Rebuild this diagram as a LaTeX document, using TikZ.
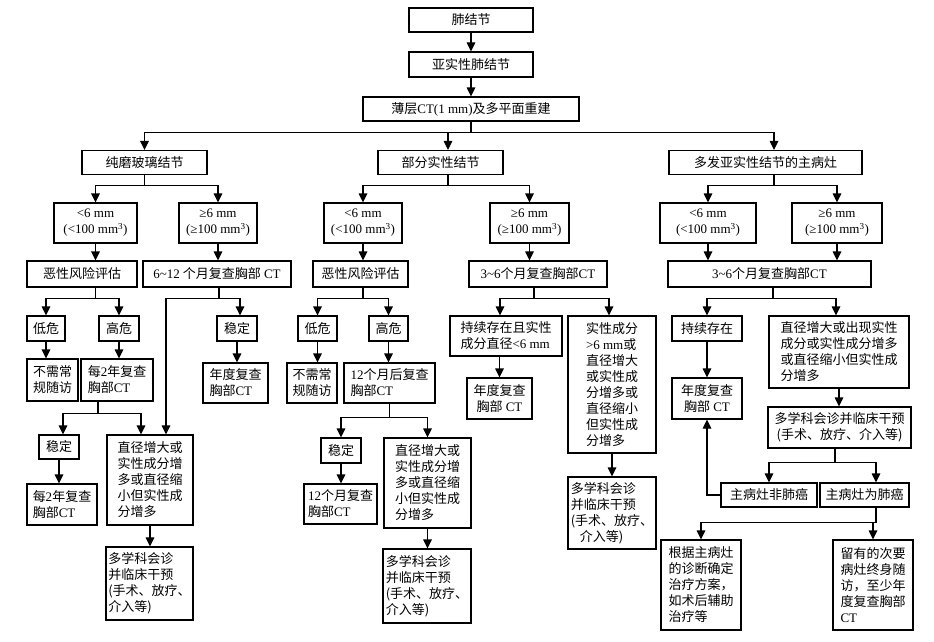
\documentclass[tikz,border=0pt]{standalone}
\usepackage{fontspec}
\setmainfont{Noto Sans CJK SC}
\newfontfamily\latf{Liberation Serif}
\newcommand\lt[1]{{\latf #1}}
\usetikzlibrary{arrows.meta}
\tikzset{
  box/.style={draw, line width=1.1pt, inner sep=0pt, align=center, font=\fontsize{13}{16}\selectfont},
  lbox/.style={box, align=left},
  arr/.style={line width=1.1pt, -{Triangle[length=9pt,width=8.5pt]}},
}
\begin{document}
\begin{tikzpicture}[x=1pt,y=-1pt]
\useasboundingbox (0,0) rectangle (934,642);
% top
\node[box,minimum width=124,minimum height=24] (n1) at (471,20) {肺结节};
\node[box,minimum width=124,minimum height=25] (n2) at (471,64.5) {亚实性肺结节};
\node[box,minimum width=216,minimum height=24] (n3) at (471,109) {薄层\lt{CT(1 mm)}及多平面重建};
% level 2
\node[box,minimum width=125,minimum height=24] (gg) at (144.5,162.5) {纯磨玻璃结节};
\node[box,minimum width=125,minimum height=24] (ps) at (440.5,162.5) {部分实性结节};
\node[box,minimum width=193,minimum height=24] (mf) at (765.5,162.5) {多发亚实性结节的主病灶};
% level 3
\node[box,minimum width=83,minimum height=40] (a1) at (95.5,223) {\lt{<6 mm}\\\lt{(<100 mm\textsuperscript{3})}};
\node[box,minimum width=78,minimum height=40] (a2) at (218,223) {\lt{≥6 mm}\\\lt{(≥100 mm\textsuperscript{3})}};
\node[box,minimum width=78,minimum height=40] (b1) at (363,223) {\lt{<6 mm}\\\lt{(<100 mm\textsuperscript{3})}};
\node[box,minimum width=79,minimum height=40] (b2) at (529.5,223) {\lt{≥6 mm}\\\lt{(≥100 mm\textsuperscript{3})}};
\node[box,minimum width=96,minimum height=40] (c1) at (708,223) {\lt{<6 mm}\\\lt{(<100 mm\textsuperscript{3})}};
\node[box,minimum width=90,minimum height=40] (c2) at (837,223) {\lt{≥6 mm}\\\lt{(≥100 mm\textsuperscript{3})}};
% level 4
\node[box,minimum width=110,minimum height=26] (a1r) at (82,274) {恶性风险评估};
\node[box,minimum width=148,minimum height=26] (a2r) at (217,274) {\lt{6\textasciitilde12} 个月复查胸部\lt{ CT}};
\node[box,minimum width=95,minimum height=26] (b1r) at (360.5,274) {恶性风险评估};
\node[box,minimum width=138,minimum height=26] (b2r) at (538,274) {\lt{3\textasciitilde6}个月复查胸部\lt{CT}};
\node[box,minimum width=203,minimum height=26] (c3) at (769.5,274) {\lt{3\textasciitilde6}个月复查胸部\lt{CT}};
% level 5
\node[box,minimum width=38,minimum height=25] (low1) at (46,328.5) {低危};
\node[box,minimum width=40,minimum height=25] (high1) at (119,328.5) {高危};
\node[box,minimum width=40,minimum height=25] (st2) at (237,328.5) {稳定};
\node[box,minimum width=39,minimum height=25] (low2) at (317.5,328.5) {低危};
\node[box,minimum width=39,minimum height=25] (high2) at (388.5,328.5) {高危};
\node[lbox,minimum width=112,minimum height=40] (ps2) at (506,336) {持续存在且实性\\成分直径\lt{<6 mm}};
\node[lbox,minimum width=88,minimum height=137] (sg) at (612,384.5) {实性成分\\\lt{>6 mm}或\\直径增大\\或实性成\\分增多或\\直径缩小\\但实性成\\分增多};
\node[box,minimum width=70,minimum height=25] (ps3) at (707,328.5) {持续存在};
\node[lbox,minimum width=140,minimum height=72] (gr3) at (839,352) {直径增大或出现实性\\成分或实性成分增多\\或直径缩小但实性成\\分增多};
% level 6
\node[lbox,minimum width=51,minimum height=42] (nf1) at (52.5,380) {不需常\\规随访};
\node[lbox,minimum width=72,minimum height=42] (ev2) at (117,380) {每\lt{2}年复查\\胸部\lt{CT}};
\node[lbox,minimum width=65,minimum height=40] (yr1) at (235.5,383) {年度复查\\胸部\lt{CT}};
\node[lbox,minimum width=50,minimum height=40] (nf2) at (312,383) {不需常\\规随访};
\node[lbox,minimum width=91,minimum height=40] (m12) at (389.5,383) {\lt{12}个月后复查\\胸部\lt{CT}};
\node[box,minimum width=65,minimum height=41] (yr2) at (499.5,398.5) {年度复查\\胸部\lt{ CT}};
\node[box,minimum width=70,minimum height=41] (yr3) at (707,398.5) {年度复查\\胸部\lt{ CT}};
% level 7
\node[box,minimum width=40,minimum height=24] (st1) at (59,447) {稳定};
\node[lbox,minimum width=86,minimum height=90] (gr1) at (150,480) {直径增大或\\实性成分增\\多或直径缩\\小但实性成\\分增多};
\node[box,minimum width=40,minimum height=25] (st3) at (341,450.5) {稳定};
\node[lbox,minimum width=87,minimum height=90] (gr2) at (427.5,483) {直径增大或\\实性成分增\\多或直径缩\\小但实性成\\分增多};
\node[box,minimum width=143,minimum height=41] (md4) at (839.5,427.5) {多学科会诊并临床干预\\(手术、放疗、介入等)};
\node[lbox,minimum width=88,minimum height=72] (md3) at (612,513) {多学科会诊\\并临床干预\\(手术、放疗、\\\hspace{0.7em}介入等)};
% level 8
\node[lbox,minimum width=70,minimum height=41] (ev2b) at (62,504.5) {每\lt{2}年复查\\胸部\lt{CT}};
\node[lbox,minimum width=73,minimum height=40] (m12b) at (340.5,504) {\lt{12}个月复查\\胸部\lt{CT}};
\node[box,minimum width=96,minimum height=24] (nl) at (769,495) {主病灶非肺癌};
\node[box,minimum width=89,minimum height=24] (lc) at (864.5,495) {主病灶为肺癌};
% level 9
\node[lbox,minimum width=87,minimum height=73] (md1) at (149.5,583.5) {多学科会诊\\并临床干预\\(手术、放疗、\\介入等)};
\node[lbox,minimum width=88,minimum height=74] (md2) at (427,586) {多学科会诊\\并临床干预\\(手术、放疗、\\介入等)};
\node[lbox,minimum width=80,minimum height=90] (rx) at (701,585) {根据主病灶\\的诊断确定\\治疗方案，\\如术后辅助\\治疗等};
\node[lbox,minimum width=80,minimum height=90] (fl) at (873,585) {留有的次要\\病灶终身随\\访，至少年\\度复查胸部\\\lt{CT}};

% connectors: top
\draw[arr] (n1) -- (n2);
\draw[arr] (n2) -- (n3);
\draw[arr] (n3.south) -- ++(0,11) -| (gg.north);
\draw[arr] (n3.south) -- ++(0,11) -| ([xshift=7.5]ps.north);
\draw[arr] (n3.south) -- ++(0,11) -| ([xshift=8.5]mf.north);
\draw[arr] (gg.south) -- ++(0,10) -| (a1.north);
\draw[arr] (gg.south) -- ++(0,10) -| (a2.north);
\draw[arr] ([xshift=7.5]ps.south) -- ++(0,10) -| (b1.north);
\draw[arr] ([xshift=7.5]ps.south) -- ++(0,10) -| (b2.north);
\draw[arr] ([xshift=8.5]mf.south) -- ++(0,10) -| (c1.north);
\draw[arr] ([xshift=8.5]mf.south) -- ++(0,10) -| (c2.north);
\draw[arr] (a1.south) -- (a1.south |- a1r.north);
\draw[arr] (a2.south) -- (a2.south |- a2r.north);
\draw[arr] (b1.south) -- (b1.south |- b1r.north);
\draw[arr] (b2.south) -- (b2.south |- b2r.north);
\draw[arr] (c1.south) -- (c1.south |- c3.north);
\draw[arr] (c2.south) -- (c2.south |- c3.north);
% left column
\draw[arr] (a1.south |- a1r.south) -- ++(0,11) -| (low1.north);
\draw[arr] (a1.south |- a1r.south) -- ++(0,11) -| (high1.north);
\draw[arr] ([xshift=2]a2r.south) -- ++(0,11) -| ([xshift=3]st2.north);
\draw[arr] ([xshift=2]a2r.south) -- ++(0,11) -| ([xshift=16]gr1.north);
\draw[arr] (low1.south) -- (low1.south |- nf1.north);
\draw[arr] (high1.south) -- (high1.south |- ev2.north);
\draw[arr] ([xshift=-19]ev2.south) -- ++(0,12) -| ([xshift=4]st1.north);
\draw[arr] ([xshift=-19]ev2.south) -- ++(0,12) -| ([xshift=-9]gr1.north);
\draw[arr] (st1.south) -- (st1.south |- ev2b.north);
\draw[arr] (gr1.south) -- (gr1.south |- md1.north);
\draw[arr] (st2.south) -- (st2.south |- yr1.north);
% middle column
\draw[arr] (b1.south |- b1r.south) -- ++(0,11) -| (low2.north);
\draw[arr] (b1.south |- b1r.south) -- ++(0,11) -| (high2.north);
\draw[arr] (low2.south) -- (low2.south |- nf2.north);
\draw[arr] (high2.south) -- (high2.south |- m12.north);
\draw[arr] (m12.south) -- ++(0,14) -| (st3.north);
\draw[arr] (m12.south) -- ++(0,14) -| (gr2.north);
\draw[arr] (st3.south) -- (st3.south |- m12b.north);
\draw[arr] (gr2.south) -- (gr2.south |- md2.north);
\draw[arr] ([xshift=-4]b2r.south) -- ++(0,11) -| ([xshift=-6]ps2.north);
\draw[arr] ([xshift=-4]b2r.south) -- ++(0,11) -| ([xshift=-3]sg.north);
\draw[arr] (yr2.north |- ps2.south) -- (yr2.north);
\draw[arr] (sg.south) -- (sg.south |- md3.north);
% right column
\draw[arr] ([xshift=3.5]c3.south) -- ++(0,11) -| (ps3.north);
\draw[arr] ([xshift=3.5]c3.south) -- ++(0,11) -| ([xshift=-3]gr3.north);
\draw[arr] (ps3.south) -- (ps3.south |- yr3.north);
\draw[arr] (gr3.south) -- (gr3.south |- md4.north);
\draw[arr] ([xshift=-4.5]md4.south) -- ++(0,14) -| (nl.north);
\draw[arr] ([xshift=-4.5]md4.south) -- ++(0,14) -| ([xshift=11.5]lc.north);
\draw[arr] (nl.west) -| (yr3.south);
\draw[arr] ([xshift=11.5]lc.south) -- ++(0,15) -| (rx.north);
\draw[arr] ([xshift=11.5]lc.south) -- ++(0,15) -| (fl.north);
\end{tikzpicture}
\end{document}
